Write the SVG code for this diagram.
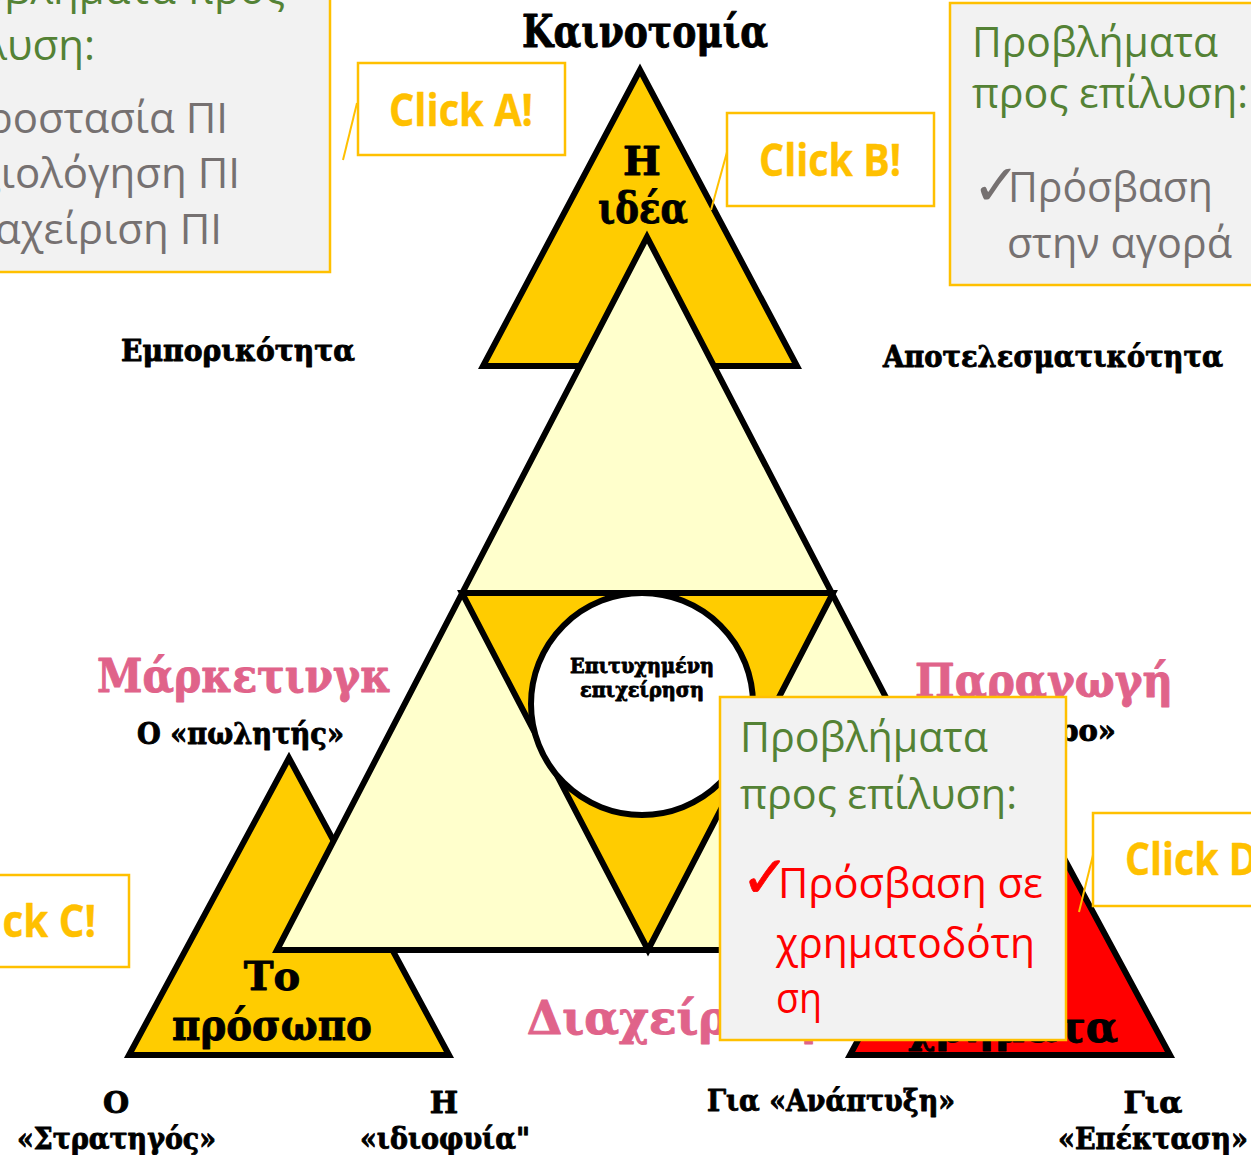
<svg xmlns="http://www.w3.org/2000/svg" width="1251" height="1155" viewBox="0 0 1251 1155">
<style>
.tri{stroke:#000;stroke-width:6;stroke-linejoin:miter}
.y{fill:#FFCC00}
.pale{fill:#FFFFCC}
.red{fill:#FF0000}
.serif{font-family:"DejaVu Serif","Liberation Serif",serif;font-weight:bold;fill:#000;stroke:#000;stroke-width:0.9;stroke-linejoin:round}
.pink{fill:#E0638A;stroke:#E0638A}
.pop{fill:#F2F2F2;stroke:#FFC000;stroke-width:2.5}
.click{fill:#FFFFFF;stroke:#FFC000;stroke-width:2.5}
.ctxt{font-family:"Open Sans","Liberation Sans",sans-serif;font-weight:bold;font-size:44px;fill:#FFC000;stroke:#FFC000;stroke-width:0.4;stroke-linejoin:round}
.sans{font-family:"Open Sans","Noto Sans","DejaVu Sans",sans-serif;font-size:42px}
.chk{font-family:"DejaVu Sans",sans-serif;font-size:58px}
.green{fill:#548235}
.gray{fill:#767171}
.rtxt{fill:#FF0000}
.ptr{stroke:#FFC000;stroke-width:2;fill:none}
</style>

<g id="popup-topleft">
<rect class="pop" x="-90" y="-60" width="420" height="332"/>
<text class="sans green" x="285" y="4" text-anchor="end">Προβλήματα προς</text>
<text class="sans green" x="95" y="60" text-anchor="end">επίλυση:</text>
<text class="sans gray" x="228" y="133" text-anchor="end"><tspan class="chk">✓</tspan>Προστασία ΠΙ</text>
<text class="sans gray" x="240" y="188" text-anchor="end"><tspan class="chk">✓</tspan>Αξιολόγηση ΠΙ</text>
<text class="sans gray" x="222" y="244" text-anchor="end"><tspan class="chk">✓</tspan>Διαχείριση ΠΙ</text>
</g>

<g id="popup-topright">
<rect class="pop" x="950" y="3" width="330" height="282"/>
<text class="sans green" x="972" y="57" textLength="246" lengthAdjust="spacingAndGlyphs">Προβλήματα</text>
<text class="sans green" x="972" y="108" textLength="276" lengthAdjust="spacingAndGlyphs">προς επίλυση:</text>
<text class="chk gray" x="972" y="205">✓</text>
<text class="sans gray" x="1008" y="202" textLength="205" lengthAdjust="spacingAndGlyphs">Πρόσβαση</text>
<text class="sans gray" x="1007" y="258" textLength="225" lengthAdjust="spacingAndGlyphs">στην αγορά</text>
</g>

<g id="title">
<text class="serif" x="522" y="47" font-size="44" textLength="246" lengthAdjust="spacingAndGlyphs">Καινοτομία</text>
</g>

<g id="tri-idea">
<polygon class="tri y" points="640,70 483,366 797,366"/>
<text class="serif" x="642" y="175" font-size="40" text-anchor="middle">Η</text>
<text class="serif" x="598" y="223" font-size="42" textLength="90" lengthAdjust="spacingAndGlyphs">ιδέα</text>
</g>

<g id="tri-person">
<polygon class="tri y" points="289,758 129,1055 449,1055"/>
<text class="serif" x="272" y="990" font-size="40" text-anchor="middle">Το</text>
<text class="serif" x="172" y="1040" font-size="42" textLength="200" lengthAdjust="spacingAndGlyphs">πρόσωπο</text>
</g>

<g id="tri-money">
<polygon class="tri red" points="1010,758 850,1055 1170,1055"/>
<text class="serif" x="1118" y="1042" font-size="42" text-anchor="end">χρήματα</text>
</g>

<g id="tri-center">
<polygon class="tri pale" points="647,237 277,950 1017,950"/>
<polygon class="tri y" points="462,593 833,593 648,950"/>
<circle cx="642" cy="704" r="111" fill="#FFFFFF" stroke="#000" stroke-width="6"/>
<text class="serif" x="570" y="673" font-size="21" stroke-width="0.5" textLength="144" lengthAdjust="spacingAndGlyphs">Επιτυχημένη</text>
<text class="serif" x="580" y="697" font-size="21" stroke-width="0.5" textLength="124" lengthAdjust="spacingAndGlyphs">επιχείρηση</text>
</g>

<g id="labels">
<text class="serif" x="121" y="361" font-size="29" textLength="234" lengthAdjust="spacingAndGlyphs">Εμπορικότητα</text>
<text class="serif" x="883" y="367" font-size="29" textLength="340" lengthAdjust="spacingAndGlyphs">Αποτελεσματικότητα</text>
<text class="serif pink" x="97" y="692" font-size="46" textLength="294" lengthAdjust="spacingAndGlyphs">Μάρκετινγκ</text>
<text class="serif" x="137" y="744" font-size="29" textLength="207" lengthAdjust="spacingAndGlyphs">Ο «πωλητής»</text>
<text class="serif pink" x="915" y="697" font-size="46" textLength="258" lengthAdjust="spacingAndGlyphs">Παραγωγή</text>
<text class="serif" x="1116" y="741" font-size="29" text-anchor="end">ρο»</text>
<text class="serif pink" x="527" y="1034" font-size="46" textLength="290" lengthAdjust="spacingAndGlyphs">Διαχείριση</text>
<text class="serif" x="116" y="1113" font-size="30" text-anchor="middle">Ο</text>
<text class="serif" x="17" y="1149" font-size="30" textLength="199" lengthAdjust="spacingAndGlyphs">«Στρατηγός»</text>
<text class="serif" x="444" y="1113" font-size="30" text-anchor="middle">Η</text>
<text class="serif" x="360" y="1149" font-size="30" textLength="170" lengthAdjust="spacingAndGlyphs">«ιδιοφυία"</text>
<text class="serif" x="707" y="1111" font-size="30" textLength="248" lengthAdjust="spacingAndGlyphs">Για «Ανάπτυξη»</text>
<text class="serif" x="1153" y="1113" font-size="30" text-anchor="middle">Για</text>
<text class="serif" x="1058" y="1149" font-size="30" textLength="190" lengthAdjust="spacingAndGlyphs">«Επέκταση»</text>
</g>

<g id="connectors">
<line class="ptr" x1="357" y1="103" x2="343" y2="160"/>
<line class="ptr" x1="727" y1="152" x2="711" y2="210"/>
<line class="ptr" x1="1093" y1="855" x2="1079" y2="912"/>
</g>

<g id="click-a">
<rect class="click" x="358" y="63" width="207" height="92"/>
<text class="ctxt" x="389" y="126" textLength="144" lengthAdjust="spacingAndGlyphs">Click A!</text>
</g>
<g id="click-b">
<rect class="click" x="727" y="113" width="207" height="93"/>
<text class="ctxt" x="759" y="176" textLength="142" lengthAdjust="spacingAndGlyphs">Click B!</text>
</g>
<g id="click-c">
<rect class="click" x="-100" y="875" width="229" height="92"/>
<text class="ctxt" x="-48" y="937" textLength="144" lengthAdjust="spacingAndGlyphs">Click C!</text>
</g>
<g id="click-d">
<rect class="click" x="1093" y="813" width="200" height="93"/>
<text class="ctxt" x="1125" y="875" textLength="144" lengthAdjust="spacingAndGlyphs">Click D!</text>
</g>

<g id="popup-center">
<rect class="pop" x="720" y="697" width="346" height="343"/>
<text class="sans green" x="740" y="752" textLength="248" lengthAdjust="spacingAndGlyphs">Προβλήματα</text>
<text class="sans green" x="740" y="809" textLength="277" lengthAdjust="spacingAndGlyphs">προς επίλυση:</text>
<text class="chk rtxt" x="741" y="897" stroke="#FF0000" stroke-width="0.8">✓</text>
<text class="sans rtxt" x="778" y="898" textLength="265" lengthAdjust="spacingAndGlyphs">Πρόσβαση σε</text>
<text class="sans rtxt" x="776" y="958" textLength="259" lengthAdjust="spacingAndGlyphs">χρηματοδότη</text>
<text class="sans rtxt" x="776" y="1013" textLength="46" lengthAdjust="spacingAndGlyphs">ση</text>
</g>
</svg>
